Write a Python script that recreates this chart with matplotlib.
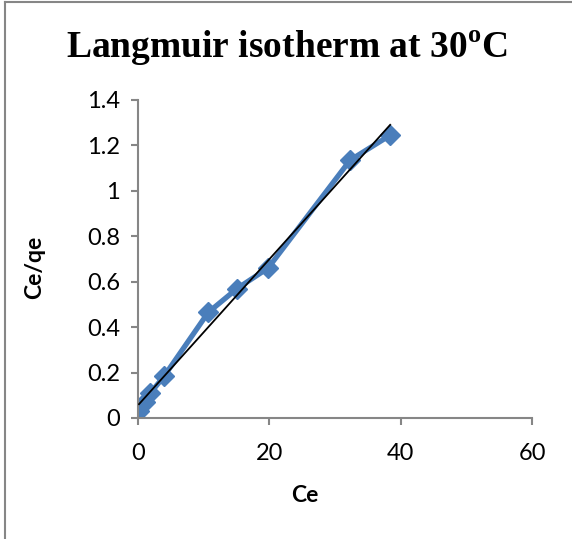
import matplotlib
matplotlib.use("Agg")
import matplotlib.pyplot as plt, numpy as np
from matplotlib.lines import Line2D

ce = [0.15, 1.0, 1.9, 4.0, 10.7, 15.1, 19.8, 32.3, 38.4]
ce_qe = [0.03, 0.07, 0.11, 0.185, 0.465, 0.57, 0.66, 1.135, 1.245]
xt = [0, 20, 40, 60]
yt = [0, 0.2, 0.4, 0.6, 0.8, 1, 1.2, 1.4]
ytl = ["0", "0.2", "0.4", "0.6", "0.8", "1", "1.2", "1.4"]

plt.rcParams["mathtext.fontset"] = "custom"
plt.rcParams["mathtext.bf"] = "Liberation Serif:bold"
plt.rcParams["mathtext.rm"] = "Liberation Serif:bold"

fig = plt.figure(figsize=(5.72, 5.39), dpi=100)
ax = fig.add_axes([138/572, 1-418/539, 394/572, 318/539])
g = "#868686"
blue = "#4A7EBB"
ax.plot(ce, ce_qe, color=blue, lw=3.8, marker="D", ms=10.5, mec=blue, mfc=blue, zorder=2)
k, b = np.polyfit(ce, ce_qe, 1)
xs = np.array([min(ce), max(ce)])
ax.plot(xs, k*xs+b, color="black", lw=1.3, zorder=3)

ax.set_xlim(0, 60); ax.set_ylim(0, 1.4)
ax.set_xticks(xt); ax.set_xticklabels([str(v) for v in xt])
ax.set_yticks(yt); ax.set_yticklabels(ytl)
for s in ("top", "right"): ax.spines[s].set_visible(False)
for s in ("left", "bottom"):
    ax.spines[s].set_color(g); ax.spines[s].set_linewidth(1.5)
ax.tick_params(direction="out", length=5, width=1.5, color=g, labelsize=17, pad=8)
ax.tick_params(axis="x", pad=13)
for t in ax.get_xticklabels()+ax.get_yticklabels(): t.set_family("Lato")
ax.set_xlabel("Ce", fontsize=16.5, fontweight="bold", family="Lato")
ax.set_ylabel("Ce/qe", fontsize=16.5, fontweight="bold", family="Lato")
ax.xaxis.set_label_coords(0.424, -0.21)
ax.yaxis.set_label_coords(-0.236, 0.475)
ax.patch.set_alpha(0)

fig.text(0.502, 1-48/539, r"Langmuir isotherm at 30$^{\mathbf{o}}$C", ha="center", va="center",
         fontsize=27, fontweight="bold", family="Liberation Serif")
fig.add_artist(Line2D([5/572, 5/572], [0, 1-1.5/539], color=g, lw=1.5))
fig.add_artist(Line2D([5/572, 1], [1-1.5/539, 1-1.5/539], color=g, lw=1.5))
fig.savefig("out.png", dpi=100)
